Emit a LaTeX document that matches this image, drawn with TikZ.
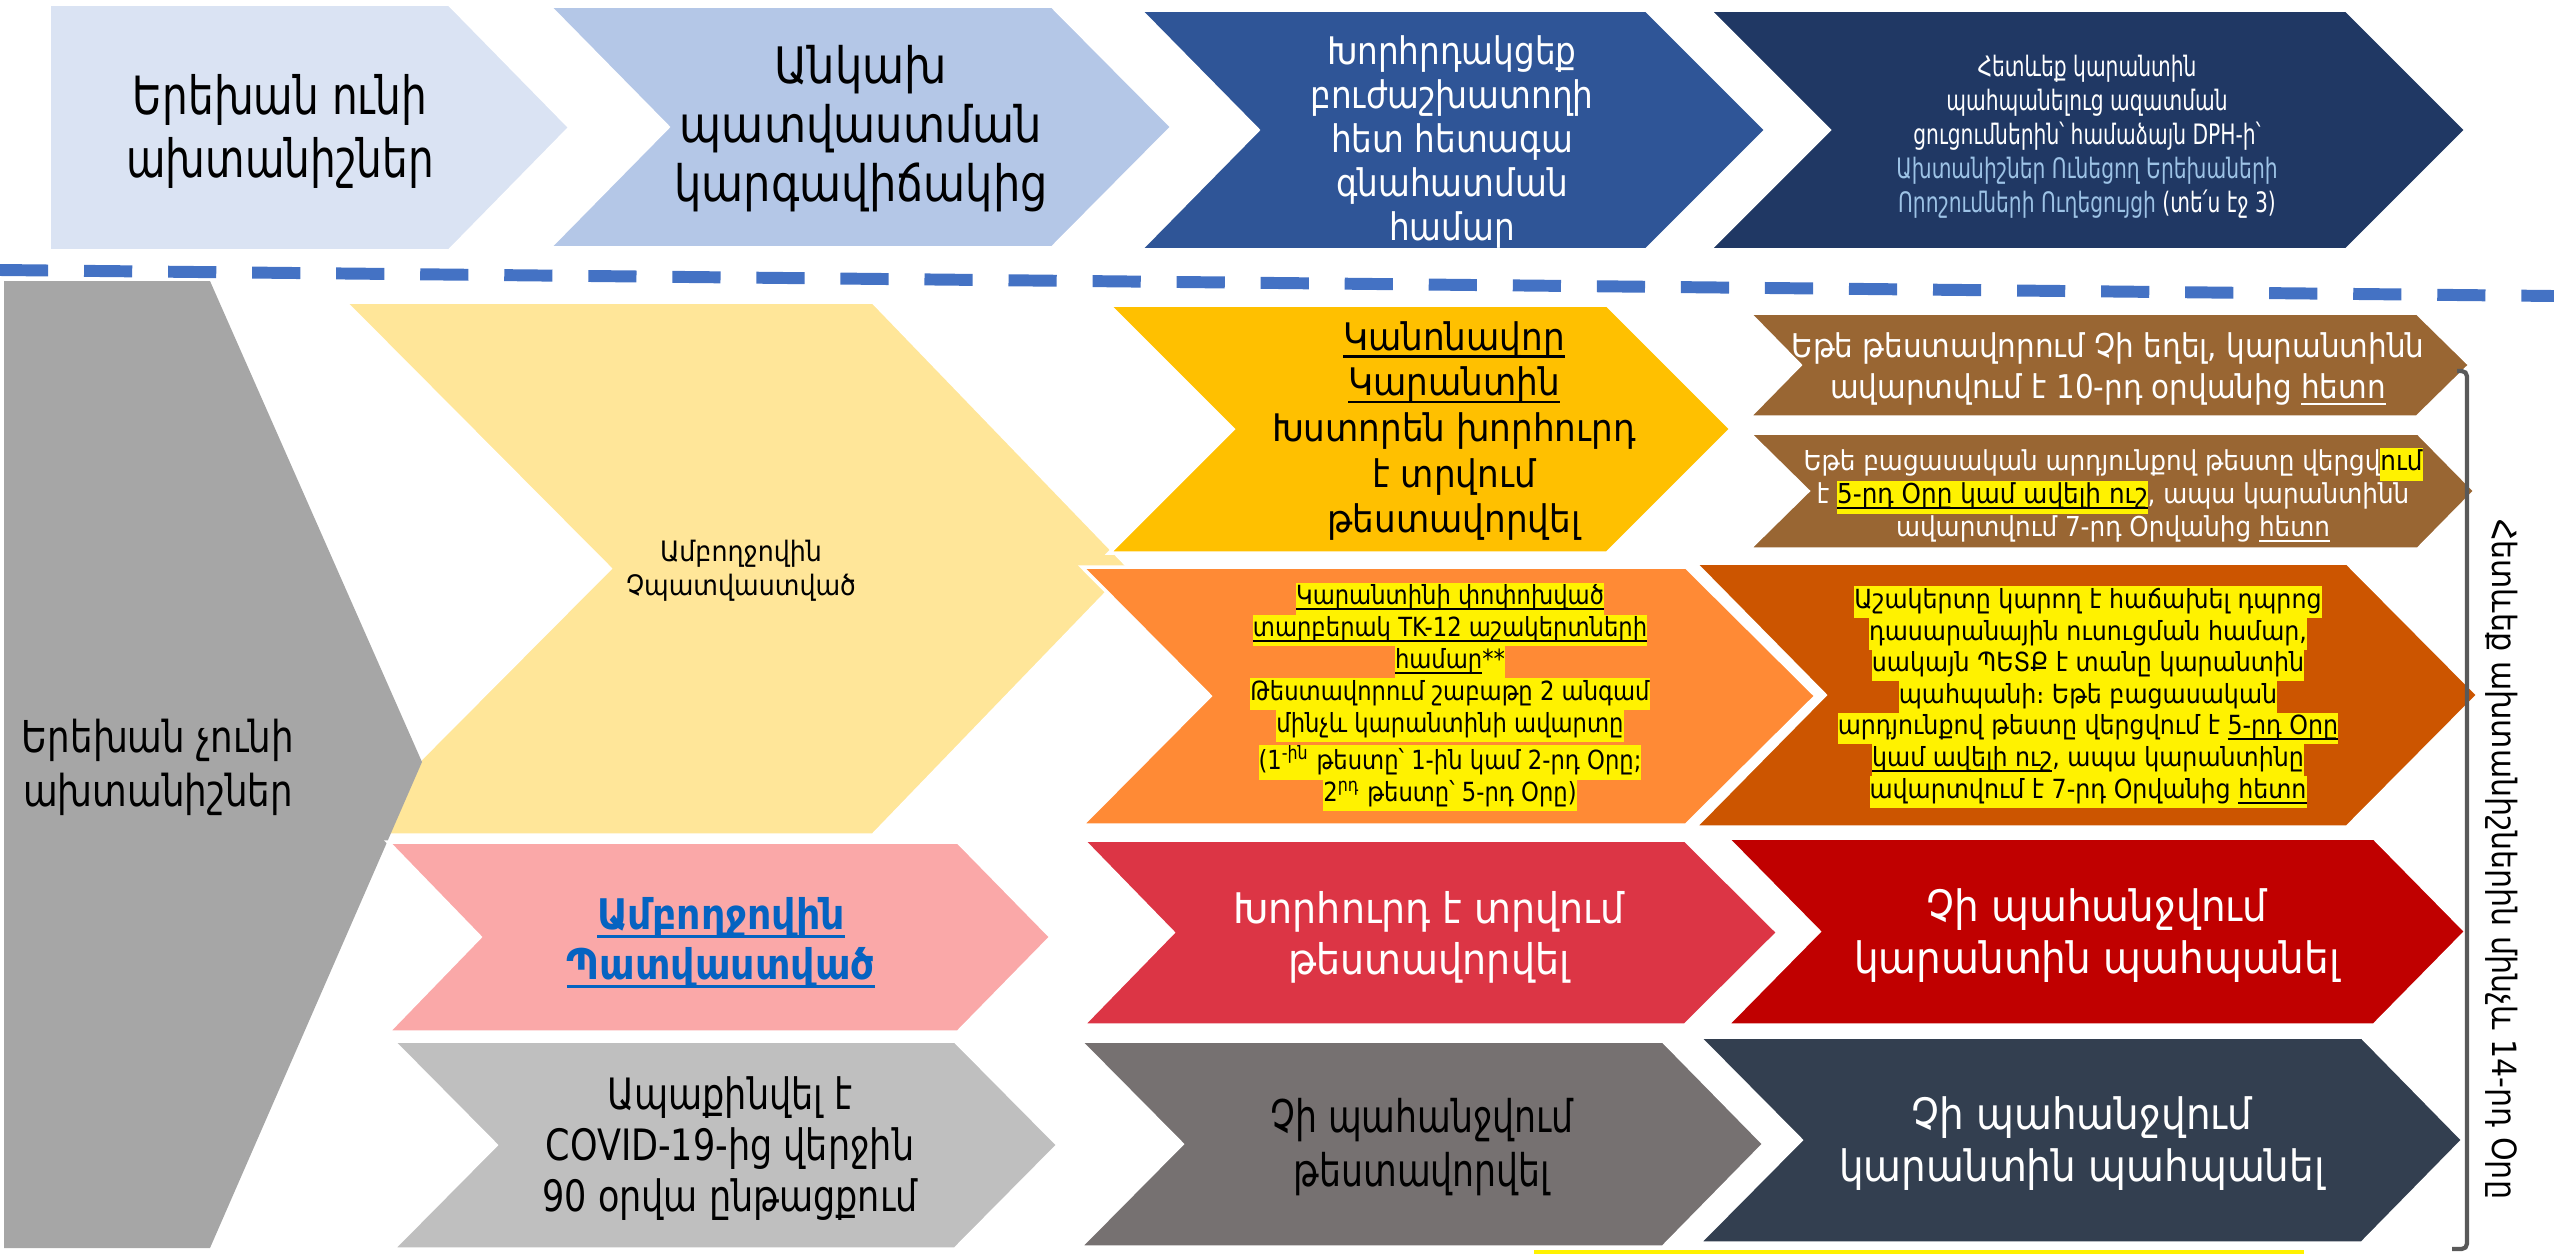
\documentclass[tikz,border=0pt]{standalone}
\usepackage{fontspec}
\setmainfont{DejaVu Sans}[FakeStretch=0.9]
\newfontfamily\cfA{DejaVu Sans}[FakeStretch=0.72]
\newfontfamily\cfB{DejaVu Sans}[FakeStretch=0.77]
\newfontfamily\cfC{DejaVu Sans}[FakeStretch=0.81]
\newfontfamily\cfD{DejaVu Sans}[FakeStretch=0.86]
\definecolor{cA}{HTML}{DAE3F3}
\definecolor{cB}{HTML}{B4C7E7}
\definecolor{cC}{HTML}{2F5597}
\definecolor{cD}{HTML}{203864}
\definecolor{cGray}{HTML}{A6A6A6}
\definecolor{cYel}{HTML}{FFE699}
\definecolor{cGold}{HTML}{FFC000}
\definecolor{cBrown}{HTML}{996633}
\definecolor{cOrange}{HTML}{FF8A35}
\definecolor{cDOrange}{HTML}{CC5500}
\definecolor{cPink}{HTML}{FAA8A8}
\definecolor{cRed}{HTML}{DC3545}
\definecolor{cDRed}{HTML}{C00000}
\definecolor{cLGray}{HTML}{BFBFBF}
\definecolor{cDGray}{HTML}{767171}
\definecolor{cNavy}{HTML}{333F50}
\definecolor{cDash}{HTML}{4472C4}
\definecolor{cLBlue}{HTML}{9DC3E6}
\definecolor{cLink}{HTML}{0563C1}
\definecolor{cBrk}{HTML}{595959}
\setlength\fboxsep{0pt}
\newcommand\hlt[1]{\colorbox{yellow}{\strut #1}}
\newcommand\uln[1]{\setbox0\hbox{#1}\leavevmode\rlap{\rule[-0.2em]{\wd0}{0.07em}}\box0}
% fill, left x, notch x, shoulder x, tip x, top y, bottom y
\newcommand\chevshape[7]{%
  \path[shp,fill=#1] (#2,#6) -- (#4,#6) -- (#5,{(#6+#7)/2}) -- (#4,#7) -- (#2,#7) -- (#3,{(#6+#7)/2}) -- cycle;}
\newcommand\fs[2]{\fontsize{#1}{#2}\selectfont}
\begin{document}
\begin{tikzpicture}[x=0.01cm,y=-0.01cm,
  shp/.style={draw=white,line width=1pt,line join=miter},
  lbl/.style={inner sep=0pt,align=center},
  dashline/.style={draw=cDash,line width=3.4pt,dash pattern=on 13.7pt off 10.2pt},
  brk/.style={draw=cBrk,line width=1.2pt,rounded corners=1.5pt}]
\useasboundingbox (0,0) rectangle (2554,1254);
% top row
\chevshape{cA}{49}{49}{449}{570}{4}{251}
\chevshape{cB}{549}{668}{1052}{1172}{6}{248}
\chevshape{cC}{1140}{1258}{1646}{1766}{10}{250}
\chevshape{cD}{1709}{1829}{2346}{2466}{10}{250}
\node[lbl,font=\cfB\fs{15}{17.9}] (t1) at (280,131) {Երեխան ունի\\ախտանիշներ};
\node[lbl,font=\cfD\fs{14.3}{16.8}] (t2) at (861,129) {Անկախ\\պատվաստման\\կարգավիճակից};
\node[lbl,font=\cfD\fs{10.8}{12.5},text=white] (t3) at (1452,142) {Խորհրդակցեք\\բուժաշխատողի\\հետ հետագա\\գնահատման\\համար};
\node[lbl,font=\cfA\fs{8}{9.7},text=white] (t4) at (2087,137) {Հետևեք կարանտին\\պահպանելուց ազատման\\ցուցումներին՝ համաձայն DPH-ի՝\\\textcolor{cLBlue}{Ախտանիշներ Ունեցող Երեխաների}\\\textcolor{cLBlue}{Որոշումների Ուղեցույցի} (տե՛ս էջ 3)};
% dashed separator
\coordinate (dl) at (0,270);
\coordinate (dr) at (2554,296);
\draw[dashline] (dl) -- (dr);
% lower area
\chevshape{cYel}{345}{610}{873}{1130}{302}{835}
\path[shp,fill=cGray,draw=none] (4,281) -- (210,281) -- (422,762) -- (210,1248) -- (4,1248) -- cycle;
\node[lbl,font=\cfC\fs{12.5}{15.4}] (tg) at (158,767) {Երեխան չունի\\ախտանիշներ};
\node[lbl,font=\fs{8}{9.7}] (ty) at (741,571) {Ամբողջովին\\Չպատվաստված};
\chevshape{cGold}{1109}{1233}{1607}{1731}{305}{553}
\node[lbl,font=\fs{10.8}{13}] (tgold) at (1454,431) {\uln{Կանոնավոր}\\\uln{Կարանտին}\\Խստորեն խորհուրդ\\է տրվում\\թեստավորվել};
\chevshape{cBrown}{1749}{1800}{2417}{2470}{313}{417}
\node[lbl,font=\fs{9.3}{11.9},text=white] (tb1) at (2108,369) {Եթե թեստավորում Չի եղել, կարանտինն\\ավարտվում է 10-րդ օրվանից \uln{հետո}};
\chevshape{cBrown}{1749}{1808}{2418}{2475}{433}{549}
\node[lbl,font=\fs{7.8}{9.4},text=white] (tb2) at (2113,495) {Եթե բացասական արդյունքով թեստը վերցվ\hlt{\textcolor{black}{ում}}\\է \hlt{\textcolor{black}{\uln{5-րդ Օրը կամ ավելի ուշ}}}, ապա կարանտինն\\ավարտվում 7-րդ Օրվանից \uln{հետո}};
\chevshape{cDOrange}{1695}{1825}{2347}{2478}{563}{827}
\chevshape{cOrange}{1082}{1210}{1686}{1816}{567}{825}
\node[lbl,font=\cfD\fs{7.5}{9.05}] (tor) at (1450,697) {\hlt{\uln{Կարանտինի փոփոխված}}\\\hlt{\uln{տարբերակ TK-12 աշակերտների}}\\\hlt{\uln{համար}**}\\\hlt{Թեստավորում շաբաթը 2 անգամ}\\\hlt{մինչև կարանտինի ավարտը}\\\hlt{(1\textsuperscript{-ին} թեստը՝ 1-ին կամ 2-րդ Օրը;}\\\hlt{2\textsuperscript{րդ} թեստը՝ 5-րդ Օրը)}};
\node[lbl,font=\fs{7.5}{9}] (tdo) at (2088,697) {\hlt{Աշակերտը կարող է հաճախել դպրոց}\\\hlt{դասարանային ուսուցման համար,}\\\hlt{սակայն ՊԵՏՔ է տանը կարանտին}\\\hlt{պահպանի։ Եթե բացասական}\\\hlt{արդյունքով թեստը վերցվում է \uln{5-րդ Օրը}}\\\hlt{\uln{կամ ավելի ուշ}, ապա կարանտինը}\\\hlt{ավարտվում է 7-րդ Օրվանից \uln{հետո}}};
\chevshape{cPink}{388}{480}{958}{1051}{842}{1032}
\node[lbl,font=\fs{12}{14.2}\bfseries,text=cLink] (tp) at (721,943) {\uln{Ամբողջովին}\\\uln{Պատվաստված}};
\chevshape{cRed}{1083}{1173}{1685}{1778}{840}{1025}
\node[lbl,font=\fs{12}{14.5},text=white] (tr) at (1429,937) {Խորհուրդ է տրվում\\թեստավորվել};
\chevshape{cDRed}{1727}{1819}{2374}{2466}{838}{1025}
\node[lbl,font=\fs{12.3}{14.8},text=white] (tdr) at (2097,936) {Չի պահանջվում\\կարանտին պահպանել};
\chevshape{cLGray}{393}{496}{955}{1058}{1041}{1249}
\node[lbl,font=\cfC\fs{12.3}{14.5}] (tlg) at (730,1149) {Ապաքինվել է\\COVID-19-ից վերջին\\90 օրվա ընթացքում};
\chevshape{cDGray}{1080}{1182}{1663}{1764}{1041}{1247}
\node[lbl,font=\cfB\fs{12.8}{15.6}] (tdg) at (1422,1147) {Չի պահանջվում\\թեստավորվել};
\chevshape{cNavy}{1699}{1801}{2362}{2463}{1037}{1243}
\node[lbl,font=\fs{12.3}{14.8},text=white] (tn) at (2082,1144) {Չի պահանջվում\\կարանտին պահպանել};
% bracket and side label
\coordinate (bt) at (2457,371);
\coordinate (bb) at (2452,1249);
\draw[brk] (bt) -- (2467,371) -- (2467,1249) -- (bb);
\node[lbl,font=\fs{9.5}{11},rotate=-90] (side) at (2502,859) {Հետևեք ախտանիշներին մինչև 14-րդ Օրը};
\fill[yellow] (1534,1250) rectangle (2304,1254);
\end{tikzpicture}
\end{document}
